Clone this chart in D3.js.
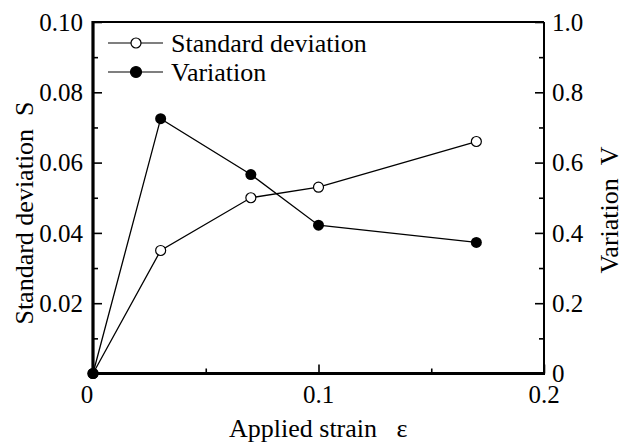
<!DOCTYPE html>
<html>
<head>
<meta charset="utf-8">
<script src="https://cdn.jsdelivr.net/npm/d3@7"></script>
</head>
<body style="margin:0">
<svg id="chart" width="626" height="447"></svg>
<script>
// --- data
const strain = [0, 0.03, 0.07, 0.1, 0.17];
const stdDev = [0, 0.035, 0.050, 0.053, 0.066];
const variation = [0, 0.725, 0.566, 0.422, 0.373];

const xTicks = [0, 0.1, 0.2];
const xMinor = [0.05, 0.15];
const leftTicks = [0.02, 0.04, 0.06, 0.08, 0.10];
const leftMinor = [0.01, 0.03, 0.05, 0.07, 0.09];
const rightTicks = [0, 0.2, 0.4, 0.6, 0.8, 1.0];
const rightMinor = [0.1, 0.3, 0.5, 0.7, 0.9];

const SERIF = "'Times New Roman', 'Liberation Serif', Tinos, FreeSerif";

const svg = d3.select("#chart");
const m = { left: 93, right: 544, top: 22, bottom: 373.5 };

const x = d3.scaleLinear().domain([0, 0.2]).range([m.left, m.right]);
const yL = d3.scaleLinear().domain([0, 0.1]).range([m.bottom, m.top]);
const yR = d3.scaleLinear().domain([0, 1]).range([m.bottom, m.top]);

const FS = 25;

// tick marks only (labels drawn as plain texts below), all pointing inward
function styleTicks(g) {
  g.select(".domain").remove();
  g.selectAll(".tick text").remove();
  g.attr("font-family", null);
  g.selectAll(".tick line").attr("stroke", "#000").attr("stroke-width", 1.6);
}

svg.append("g").attr("transform", `translate(${m.left},0)`)
  .call(d3.axisLeft(yL).tickValues(leftTicks).tickSize(-9)).call(styleTicks);
svg.append("g").attr("transform", `translate(${m.left},0)`)
  .call(d3.axisLeft(yL).tickValues(leftMinor).tickSize(-5)).call(styleTicks);
svg.append("g").attr("transform", `translate(${m.right},0)`)
  .call(d3.axisRight(yR).tickValues(rightTicks).tickSize(-9)).call(styleTicks);
svg.append("g").attr("transform", `translate(${m.right},0)`)
  .call(d3.axisRight(yR).tickValues(rightMinor).tickSize(-5)).call(styleTicks);
svg.append("g").attr("transform", `translate(0,${m.bottom})`)
  .call(d3.axisBottom(x).tickValues(xTicks).tickSize(-9)).call(styleTicks);
svg.append("g").attr("transform", `translate(0,${m.bottom})`)
  .call(d3.axisBottom(x).tickValues(xMinor).tickSize(-5)).call(styleTicks);

// tick labels, placed through the same scales
const fmtL = d3.format(".2f");
const fmtR = d => d === 0 ? "0" : d3.format(".1f")(d);

leftTicks.forEach(v => {
  svg.append("text").attr("x", m.left - 10).attr("y", yL(v)).attr("dy", "0.35em")
    .attr("text-anchor", "end").attr("font-family", SERIF).attr("font-size", FS).text(fmtL(v));
});
rightTicks.forEach(v => {
  svg.append("text").attr("x", m.right + 8).attr("y", yR(v)).attr("dy", "0.35em")
    .attr("font-family", SERIF).attr("font-size", FS).text(fmtR(v));
});
xTicks.forEach(v => {
  svg.append("text").attr("x", x(v) + (v === 0 ? -6 : 0)).attr("y", m.bottom + 29)
    .attr("text-anchor", "middle").attr("font-family", SERIF).attr("font-size", FS).text(fmtR(v));
});

// frame
const frame = svg.append("g").attr("stroke", "#000").attr("fill", "none");
frame.append("line").attr("x1", m.left).attr("x2", m.right).attr("y1", m.top).attr("y2", m.top).attr("stroke-width", 2);
frame.append("line").attr("x1", m.right).attr("x2", m.right).attr("y1", m.top).attr("y2", m.bottom).attr("stroke-width", 2);
frame.append("line").attr("x1", m.left).attr("x2", m.left).attr("y1", m.top - 1).attr("y2", m.bottom + 1.5).attr("stroke-width", 3.2);
frame.append("line").attr("x1", m.left - 1.5).attr("x2", m.right + 1).attr("y1", m.bottom).attr("y2", m.bottom).attr("stroke-width", 3.2);

// series
const sdPts = strain.map((s, i) => [s, stdDev[i]]);
const vPts = strain.map((s, i) => [s, variation[i]]);

const lineL = d3.line().x(d => x(d[0])).y(d => yL(d[1]));
const lineR = d3.line().x(d => x(d[0])).y(d => yR(d[1]));

svg.append("path").attr("d", lineL(sdPts)).attr("fill", "none").attr("stroke", "#000").attr("stroke-width", 1.3);
svg.append("path").attr("d", lineR(vPts)).attr("fill", "none").attr("stroke", "#000").attr("stroke-width", 1.3);

svg.selectAll(".sd").data(sdPts).enter().append("circle")
  .attr("cx", d => x(d[0])).attr("cy", d => yL(d[1])).attr("r", 5)
  .attr("fill", "#fff").attr("stroke", "#000").attr("stroke-width", 1.2);
svg.selectAll(".vv").data(vPts).enter().append("circle")
  .attr("cx", d => x(d[0])).attr("cy", d => yR(d[1])).attr("r", 5.5)
  .attr("fill", "#000");

// legend
const legend = [
  { label: "Standard deviation", filled: false, y: 43 },
  { label: "Variation", filled: true, y: 72 }
];
legend.forEach(l => {
  svg.append("line").attr("x1", 108).attr("x2", 163).attr("y1", l.y).attr("y2", l.y)
    .attr("stroke", "#000").attr("stroke-width", 1.1);
  svg.append("circle").attr("cx", 136).attr("cy", l.y).attr("r", l.filled ? 5.5 : 5)
    .attr("fill", l.filled ? "#000" : "#fff").attr("stroke", "#000").attr("stroke-width", 1.2);
  svg.append("text").attr("x", 171).attr("y", l.y + 9)
    .attr("font-family", SERIF).attr("font-size", 26).text(l.label);
});

// axis titles
svg.append("text")
  .attr("transform", "translate(33,213) rotate(-90)")
  .attr("text-anchor", "middle")
  .attr("font-family", SERIF)
  .attr("font-size", 26)
  .text("Standard deviation\u00a0\u00a0S");

svg.append("text")
  .attr("transform", "translate(618,210) rotate(-90)")
  .attr("text-anchor", "middle")
  .attr("font-family", SERIF)
  .attr("font-size", 26)
  .text("Variation\u00a0\u00a0V");

svg.append("text")
  .attr("x", 229).attr("y", 437)
  .attr("font-family", SERIF)
  .attr("font-size", 26)
  .text("Applied strain\u00a0\u00a0\u00a0ε");
</script>
</body>
</html>
